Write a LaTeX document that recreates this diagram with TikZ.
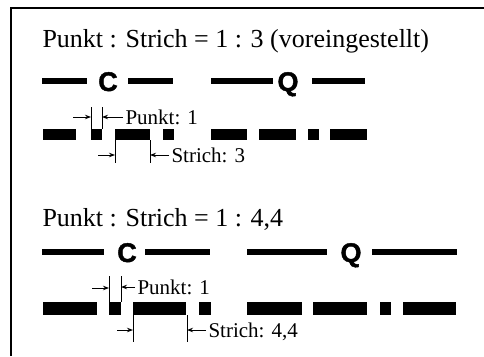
\documentclass[tikz,border=0pt]{standalone}
\usepackage{fontspec}
\setmainfont{Liberation Serif}
\setsansfont{Liberation Sans}
\newfontfamily\heavyfont{Liberation Sans}[BoldFeatures={FakeBold=1.6}]
\usetikzlibrary{arrows.meta}
\tikzset{
  every picture/.style={line width=1pt},
  title/.style={anchor=base west, inner sep=0pt, font=\fontsize{26}{30}\selectfont},
  lbl/.style={anchor=base west, inner sep=0pt, font=\fontsize{21}{25}\selectfont},
  letter/.style={anchor=base, inner sep=0pt, font=\heavyfont\bfseries\fontsize{27}{30}\selectfont},
  dim/.style={-{Stealth[length=6pt,width=4.5pt]}, line width=1pt},
  tickline/.style={line width=0.8pt},
}

\begin{document}
\begin{tikzpicture}[x=1pt, y=-1pt]
  \useasboundingbox (0,0) rectangle (484,356);
  % frame (cut off right and bottom)
  \draw[line width=2pt] (11,356) -- (11,8) -- (484,8);

  % ratio 1 : 3
  \node[title] (t1) at (42,47) {Punkt : Strich = 1 : 3 (voreingestellt)};
  \foreach \a/\b in {42/87,128/173,211/273,312/365} \fill (\a,78) rectangle (\b,84);
  \node[letter] (c1) at (108,91) {C};
  \node[letter] (q1) at (288,91) {Q};
  \foreach \a/\b in {43/76,91/102,115/150,163/174,211/247,259/296,308/319,330/367}
    \fill (\a,129) rectangle (\b,140);
  % Punkt
  \coordinate (pa1) at (91,107); \coordinate (pb1) at (91,129);
  \coordinate (pc1) at (102,107); \coordinate (pd1) at (102,129);
  \draw[tickline] (pa1) -- (pb1);
  \draw[tickline] (pc1) -- (pd1);
  \coordinate (pl1) at (73,117);
  \draw[dim] (pl1) -- (pl1 -| pa1);
  \node[lbl] (lp1) at (125,124) {Punkt: 1};
  \draw[dim] ([shift={(-2pt,7pt)}]lp1.base west) -- ([yshift=7pt]lp1.base west -| pc1);
  % Strich
  \coordinate (sa1) at (115,140); \coordinate (sb1) at (115,163);
  \coordinate (sc1) at (150,140); \coordinate (sd1) at (150,163);
  \draw[tickline] (sa1) -- (sb1);
  \draw[tickline] (sc1) -- (sd1);
  \coordinate (sl1) at (98,155);
  \draw[dim] (sl1) -- (sl1 -| sa1);
  \node[lbl] (ls1) at (171,162) {Strich: 3};
  \draw[dim] ([shift={(-2pt,7pt)}]ls1.base west) -- ([yshift=7pt]ls1.base west -| sc1);

  % ratio 1 : 4,4
  \node[title] (t2) at (42,226) {Punkt : Strich = 1 : 4,4};
  \foreach \a/\b in {42/104,145/210,247/327,372/457} \fill (\a,249) rectangle (\b,255);
  \node[letter] (c2) at (127,262) {C};
  \node[letter] (q2) at (351,262) {Q};
  \foreach \a/\b in {43/97,109/121,133/186,199/211,247/302,313/367,380/391,403/456}
    \fill (\a,302) rectangle (\b,315);
  % Punkt
  \coordinate (pa2) at (109,276); \coordinate (pb2) at (109,302);
  \coordinate (pc2) at (121,276); \coordinate (pd2) at (121,302);
  \draw[tickline] (pa2) -- (pb2);
  \draw[tickline] (pc2) -- (pd2);
  \coordinate (pl2) at (92,288);
  \draw[dim] (pl2) -- (pl2 -| pa2);
  \node[lbl] (lp2) at (137,294) {Punkt: 1};
  \draw[dim] ([shift={(-2pt,7pt)}]lp2.base west) -- ([yshift=7pt]lp2.base west -| pc2);
  % Strich
  \coordinate (sa2) at (133,315); \coordinate (sb2) at (133,342);
  \coordinate (sc2) at (187,315); \coordinate (sd2) at (187,342);
  \draw[tickline] (sa2) -- (sb2);
  \draw[tickline] (sc2) -- (sd2);
  \coordinate (sl2) at (117,330);
  \draw[dim] (sl2) -- (sl2 -| sa2);
  \node[lbl] (ls2) at (208,337) {Strich: 4,4};
  \draw[dim] ([shift={(-2pt,7pt)}]ls2.base west) -- ([yshift=7pt]ls2.base west -| sc2);
\end{tikzpicture}
\end{document}
